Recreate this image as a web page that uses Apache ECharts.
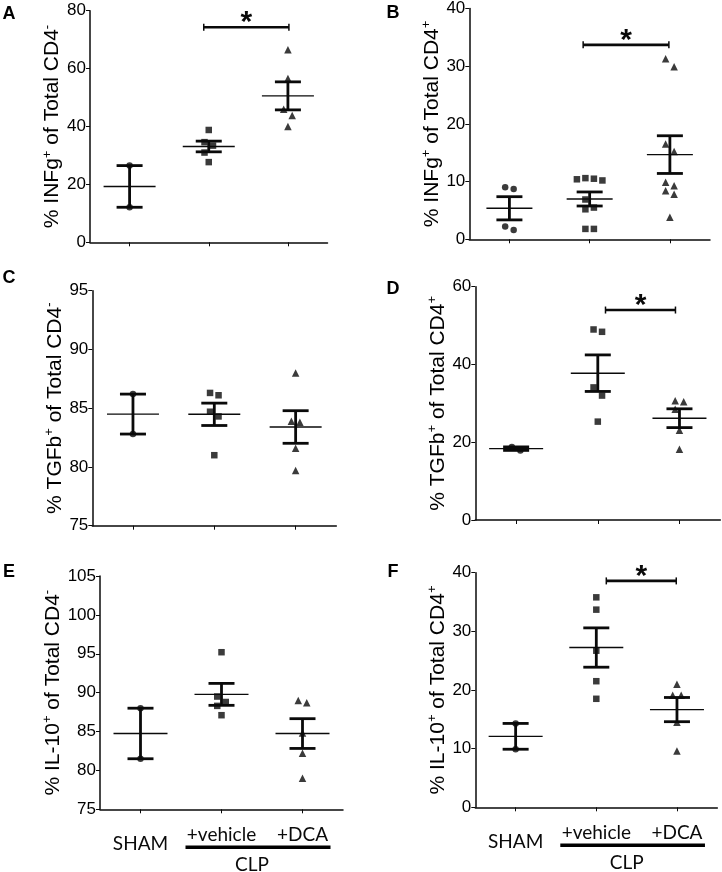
<!DOCTYPE html>
<html><head><meta charset="utf-8">
<script src="https://cdn.jsdelivr.net/npm/echarts@6/dist/echarts.min.js"></script>
<style>html,body{margin:0;padding:0;background:#fff}#c{width:722px;height:872px}</style>
</head><body><div id="c"></div>
<script>
// ---------------- DATA ----------------
const categories = ['SHAM', '+vehicle', '+DCA'];

// A: % INFg+ of Total CD4-
const ifngNegSham = [26.5, 12.1];
const ifngNegVehicle = [38.8, 34.6, 33.4, 31.0, 27.7];
const ifngNegDca = [66.5, 56.6, 46.0, 43.8, 40.0];
// B: % INFg+ of Total CD4+
const ifngPosSham = [9.0, 8.7, 2.2, 1.6];
const ifngPosVehicle = [10.6, 10.5, 10.4, 10.2, 6.9, 5.5, 5.2, 1.8, 1.8];
const ifngPosDca = [31.3, 29.9, 16.5, 15.2, 9.9, 9.3, 8.4, 7.8, 3.8];
// C: % TGFb+ of Total CD4-
const tgfNegSham = [86.2, 82.8];
const tgfNegVehicle = [86.3, 86.1, 84.7, 84.3, 81.0];
const tgfNegDca = [88.0, 83.9, 83.8, 81.6, 79.7];
// D: % TGFb+ of Total CD4+
const tgfPosSham = [18.8, 17.9];
const tgfPosVehicle = [49.0, 48.4, 34.1, 32.0, 25.3];
const tgfPosDca = [30.7, 30.4, 28.5, 23.1, 18.2];
// E: % IL-10+ of Total CD4-
const il10NegSham = [88.0, 81.5];
const il10NegVehicle = [95.2, 89.5, 88.8, 88.3, 87.1];
const il10NegDca = [89.0, 88.7, 84.8, 82.2, 79.0];
// F: % IL-10+ of Total CD4+
const il10PosSham = [14.3, 9.9];
const il10PosVehicle = [35.8, 33.7, 26.7, 21.5, 18.5];
const il10PosDca = [21.0, 19.1, 19.1, 14.5, 9.6];

// y-axis ticks [min, max, interval]
const yTicksA = [0, 80, 20];
const yTicksB = [0, 40, 10];
const yTicksC = [75, 95, 5];
const yTicksD = [0, 60, 20];
const yTicksE = [75, 105, 5];
const yTicksF = [0, 40, 10];

// significance brackets: [fromCategory, toCategory, yValue]
const sigA = [1, 2, 74.3];
const sigB = [1, 2, 33.7];
const sigD = [1, 2, 54.0];
const sigF = [1, 2, 38.6];

// axis titles
const titleA = ['INFg', '+', '-'];
const titleB = ['INFg', '+', '+'];
const titleC = ['TGFb', '+', '-'];
const titleD = ['TGFb', '+', '+'];
const titleE = ['IL-10', '+', '-'];
const titleF = ['IL-10', '+', '+'];

// ---------------- LAYOUT / STYLE ----------------
const panels = [
  {letter:'A', groups:[ifngNegSham, ifngNegVehicle, ifngNegDca], ticks:yTicksA, title:titleA, sig:sigA,
   grid:{left:90, top:10.7, width:237.5, height:231.6}, lx:9, ly:14, meanHalf:26, sigOff:[-5, 1], xl:false, gap:24},
  {letter:'B', groups:[ifngPosSham, ifngPosVehicle, ifngPosDca], ticks:yTicksB, title:titleB, sig:sigB,
   grid:{left:469.3, top:6.7, width:240.7, height:232.6}, lx:393, ly:13, meanHalf:23, sigOff:[-6.5, -1], xl:false, gap:23},
  {letter:'C', groups:[tgfNegSham, tgfNegVehicle, tgfNegDca], ticks:yTicksC, title:titleC, sig:null,
   grid:{left:92.3, top:290.7, width:244, height:235}, lx:9, ly:278, meanHalf:26, sigOff:[0,0], xl:false, gap:24},
  {letter:'D', groups:[tgfPosSham, tgfPosVehicle, tgfPosDca], ticks:yTicksD, title:titleD, sig:sigD,
   grid:{left:475.3, top:286.7, width:245, height:233.3}, lx:393, ly:289, meanHalf:27, sigOff:[7.7, -4], xl:false, gap:24},
  {letter:'E', groups:[il10NegSham, il10NegVehicle, il10NegDca], ticks:yTicksE, title:titleE, sig:null,
   grid:{left:100, top:576, width:243, height:233.3}, lx:9, ly:572, meanHalf:27, sigOff:[0,0], xl:true, gap:26},
  {letter:'F', groups:[il10PosSham, il10PosVehicle, il10PosDca], ticks:yTicksF, title:titleF, sig:sigF,
   grid:{left:475.3, top:572.7, width:242, height:234.6}, lx:393, ly:572, meanHalf:27, sigOff:[10, -0.7], xl:true, gap:25}
];
const symbols = ['circle', 'rect', 'triangle'];
const symbolSizes = [6.5, 6.5, 7.5];
const INK = '#0a0a0a';
const NUM_FONT = '"Liberation Sans", Arial, sans-serif';
const LBL_FONT = 'Lato, "Open Sans", sans-serif';

function mean(a){ return a.reduce((s,v)=>s+v,0)/a.length; }
function sem(a){ const m=mean(a); const v=a.reduce((s,x)=>s+(x-m)*(x-m),0)/(a.length-1); return Math.sqrt(v/a.length); }

// simple centred beeswarm (horizontal offsets in px, computed from the values)
function swarm(values, pxPerUnit){
  const d = 8.5, step = 8.5;
  const order = values.map((v,i)=>i).sort((a,b)=>values[b]-values[a]);
  const off = new Array(values.length).fill(0);
  const clusters = []; let cur = []; let prev = null;
  for (const i of order){
    const y = values[i]*pxPerUnit;
    if (prev !== null && prev - y >= d){ clusters.push(cur); cur = []; }
    cur.push(i); prev = y;
  }
  if (cur.length) clusters.push(cur);
  for (const cl of clusters){
    const pl = [];
    for (const i of cl){
      const y = values[i]*pxPerUnit;
      for (let k=0;k<20;k++){
        const dx = k===0 ? 0 : (k%2===1 ? step*Math.ceil(k/2) : -step*Math.ceil(k/2));
        if (pl.every(p => Math.abs(p.y-y) >= d-0.01 || Math.abs(p.x-dx) >= d-0.01)){ pl.push({x:dx,y}); off[i]=dx; break; }
      }
    }
    const xs = pl.map(p=>p.x); const mid=(Math.min(...xs)+Math.max(...xs))/2;
    for (const i of cl) off[i] -= mid;
  }
  return off;
}

const grids=[], xAxes=[], yAxes=[], series=[], graphics=[];
panels.forEach((p, gi) => {
  grids.push(Object.assign({}, p.grid));
  xAxes.push({
    type:'category', gridIndex:gi, data:categories, boundaryGap:true,
    axisLine:{show:true, lineStyle:{color:INK, width:1.5}},
    axisTick:{show:true, alignWithLabel:true, length:4, lineStyle:{color:INK, width:1}},
    axisLabel: p.xl ? {
      show:true, interval:0, margin:16,
      formatter: v => v==='SHAM' ? '{s|'+v+'}' : '{n|'+v+'}',
      rich:{ s:{fontFamily:LBL_FONT, fontSize:19, color:INK, padding:[9,0,0,0]},
             n:{fontFamily:LBL_FONT, fontSize:19, color:INK} }
    } : {show:false},
    splitLine:{show:false}
  });
  const t = p.title;
  yAxes.push({
    type:'value', gridIndex:gi, min:p.ticks[0], max:p.ticks[1], interval:p.ticks[2],
    axisLine:{show:true, lineStyle:{color:INK, width:1.5}},
    axisTick:{show:true, length:4, lineStyle:{color:INK, width:1}},
    axisLabel:{fontFamily:NUM_FONT, fontSize:17, color:'#000', margin:4},
    splitLine:{show:false},
    name:'{n|% '+t[0]+'}{s|'+t[1]+'}{n| of Total CD4}{s|'+t[2]+'}',
    nameLocation:'middle', nameGap:p.gap, nameRotate:90,
    nameTextStyle:{ rich:{
      n:{fontFamily:NUM_FONT, fontSize:21, color:'#000', lineHeight:24},
      s:{fontFamily:NUM_FONT, fontSize:13, color:'#000', lineHeight:13, verticalAlign:'top'}
    }}
  });
  const pxPerUnit = p.grid.height/(p.ticks[1]-p.ticks[0]);
  // error bars + mean
  series.push({
    type:'custom', xAxisIndex:gi, yAxisIndex:gi, z:3,
    data: p.groups.map((g,i)=>[i, mean(g), sem(g)]),
    renderItem:(params, api)=>{
      const x=api.value(0), m=api.value(1), s=api.value(2);
      const pm=api.coord([x,m]), pt=api.coord([x,m+s]), pb=api.coord([x,m-s]);
      const hw=p.meanHalf, cw=13;
      return {type:'group', children:[
        {type:'line', shape:{x1:pm[0]-hw,y1:pm[1],x2:pm[0]+hw,y2:pm[1]}, style:{stroke:INK,lineWidth:1.4}},
        {type:'line', shape:{x1:pt[0],y1:pt[1],x2:pb[0],y2:pb[1]}, style:{stroke:INK,lineWidth:2.8}},
        {type:'line', shape:{x1:pt[0]-cw,y1:pt[1],x2:pt[0]+cw,y2:pt[1]}, style:{stroke:INK,lineWidth:2.8}},
        {type:'line', shape:{x1:pb[0]-cw,y1:pb[1],x2:pb[0]+cw,y2:pb[1]}, style:{stroke:INK,lineWidth:2.8}}
      ]};
    }
  });
  // points
  p.groups.forEach((g, ci) => {
    const offs = swarm(g, pxPerUnit);
    series.push({
      type:'scatter', xAxisIndex:gi, yAxisIndex:gi, z:4,
      symbol:symbols[ci], symbolSize:symbolSizes[ci],
      itemStyle:{color:INK}, silent:true,
      data: g.map((v,k)=>({value:[ci, v], symbolOffset:[offs[k], 0]}))
    });
  });
  // significance bracket
  if (p.sig){
    series.push({
      type:'custom', xAxisIndex:gi, yAxisIndex:gi, z:5,
      data:[p.sig],
      renderItem:(params, api)=>{
        const a=api.coord([api.value(0), api.value(2)]), b=api.coord([api.value(1), api.value(2)]);
        const x1=a[0]+p.sigOff[0], x2=b[0]+p.sigOff[1], y=a[1];
        return {type:'group', children:[
          {type:'line', shape:{x1:x1,y1:y,x2:x2,y2:y}, style:{stroke:INK,lineWidth:2.6}},
          {type:'line', shape:{x1:x1,y1:y-3.5,x2:x1,y2:y+3.5}, style:{stroke:INK,lineWidth:1.5}},
          {type:'line', shape:{x1:x2,y1:y-3.5,x2:x2,y2:y+3.5}, style:{stroke:INK,lineWidth:1.5}},
          {type:'text', x:(x1+x2)/2, y:y-4, style:{text:'*', font:'bold 30px '+NUM_FONT, fill:INK, align:'center', verticalAlign:'middle'}}
        ]};
      }
    });
  }
  graphics.push({type:'text', x:p.lx, y:p.ly, style:{text:p.letter, font:'bold 18px '+NUM_FONT, fill:'#000', align:'center', verticalAlign:'middle'}});
});

const chart = echarts.init(document.getElementById('c'), null, {renderer:'canvas'});
chart.setOption({
  backgroundColor:'#fff', animation:false,
  grid:grids, xAxis:xAxes, yAxis:yAxes, series:series, graphic:graphics
});

// CLP bracket under +vehicle / +DCA (panels E and F)
const extra = graphics.slice();
[4,5].forEach(gi => {
  const yMin = panels[gi].ticks[0];
  const pv = chart.convertToPixel({gridIndex:gi}, [1, yMin]);
  const pd = chart.convertToPixel({gridIndex:gi}, [2, yMin]);
  const y = pv[1];
  extra.push({type:'line', shape:{x1:pv[0]-36, y1:y+38, x2:pd[0]+28, y2:y+38}, style:{stroke:'#000', lineWidth:3.5}});
  extra.push({type:'text', x:(pv[0]+pd[0])/2-10, y:y+56, style:{text:'CLP', font:'19px '+LBL_FONT, fill:INK, align:'center', verticalAlign:'middle'}});
});
chart.setOption({graphic:extra});
</script>
</body></html>
